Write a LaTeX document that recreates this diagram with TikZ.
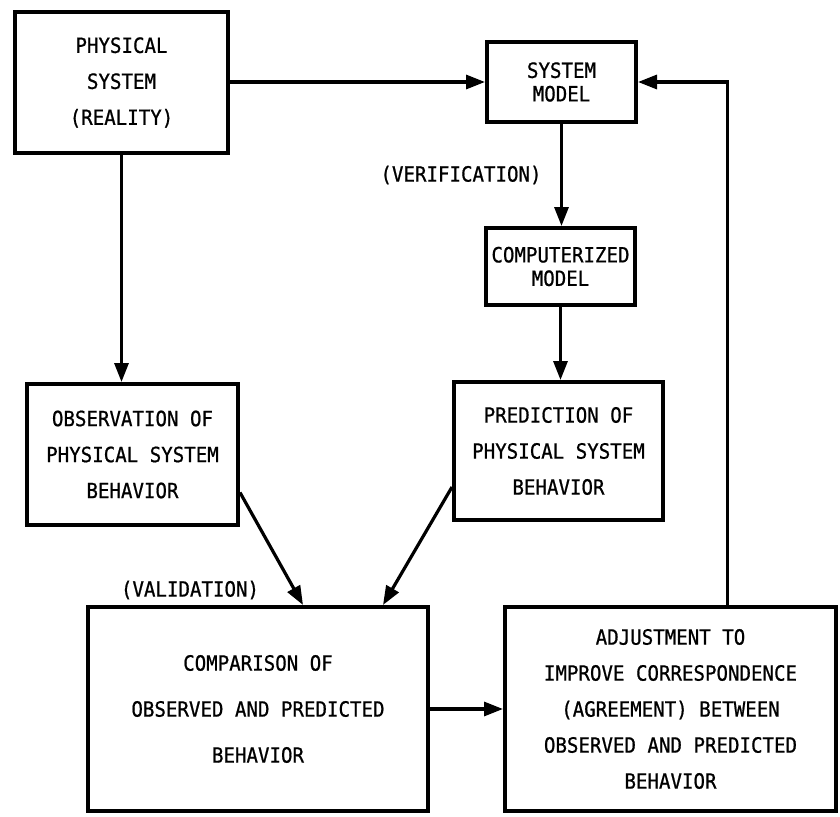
\documentclass[tikz,border=0pt]{standalone}
\usepackage{fontspec}
\newfontfamily\lp[FakeStretch=0.91,FakeBold=0.8]{DejaVu Sans Mono}
\usetikzlibrary{arrows.meta}
\begin{document}
\begin{tikzpicture}[x=1pt,y=-1pt, block/.style={draw,line width=4pt,align=center,inner sep=0pt,font=\lp\fontsize{21}{36}\selectfont}, small/.style={block,font=\lp\fontsize{21}{23.5}\selectfont}, remark/.style={font=\lp\fontsize{21}{23}\selectfont}, arr/.style={line width=3.2pt,-{Triangle[length=19pt,width=14pt]}}]
       \useasboundingbox (0,0) rectangle (840,816);
       \node[block, minimum width=213pt, minimum height=141pt] (phys) at (121.5, 82.5) {PHYSICAL\\SYSTEM\\(REALITY)};
       \node[small, minimum width=149pt, minimum height=80pt] (model) at (561.5, 82) {SYSTEM\\MODEL};
       \node[small, minimum width=149pt, minimum height=77pt] (comp) at (560.5, 266.5) {COMPUTERIZED\\MODEL};
       \node[block, minimum width=211pt, minimum height=141pt] (obs) at (132.5, 454.5) {OBSERVATION OF\\PHYSICAL SYSTEM\\BEHAVIOR};
       \node[block, minimum width=209pt, minimum height=138pt] (pred) at (558.5, 451) {PREDICTION OF\\PHYSICAL SYSTEM\\BEHAVIOR};
       \node[block, minimum width=340pt, minimum height=204pt, font=\lp\fontsize{21}{46}\selectfont] (cmp) at (258, 709) {COMPARISON OF\\OBSERVED AND PREDICTED\\BEHAVIOR};
       \node[block, minimum width=331pt, minimum height=204pt] (adj) at (670.5, 709) {ADJUSTMENT TO\\IMPROVE CORRESPONDENCE\\(AGREEMENT) BETWEEN\\OBSERVED AND PREDICTED\\BEHAVIOR};
       \node[remark] (ver) at (461, 175) {(VERIFICATION)};
       \node[remark] (val) at (190, 590) {(VALIDATION)};

       \draw[arr] (phys.east |- model) -- (model.west);
       \draw[arr] (phys.south) -- (phys.south |- obs.north);
       \draw[arr] (model.south) -- (model.south |- comp.north);
       \draw[arr] (comp.south) -- (comp.south |- pred.north);
       \draw[arr] ([yshift=-38pt]obs.east) -- ([xshift=45pt]cmp.north);
       \draw[arr] ([yshift=-36pt]pred.west) -- ([xshift=125pt]cmp.north);
       \draw[arr] (cmp.east) -- (adj.west);
       \draw[arr] ([xshift=57pt]adj.north) |- (model.east);
     \end{tikzpicture}
\end{document}
